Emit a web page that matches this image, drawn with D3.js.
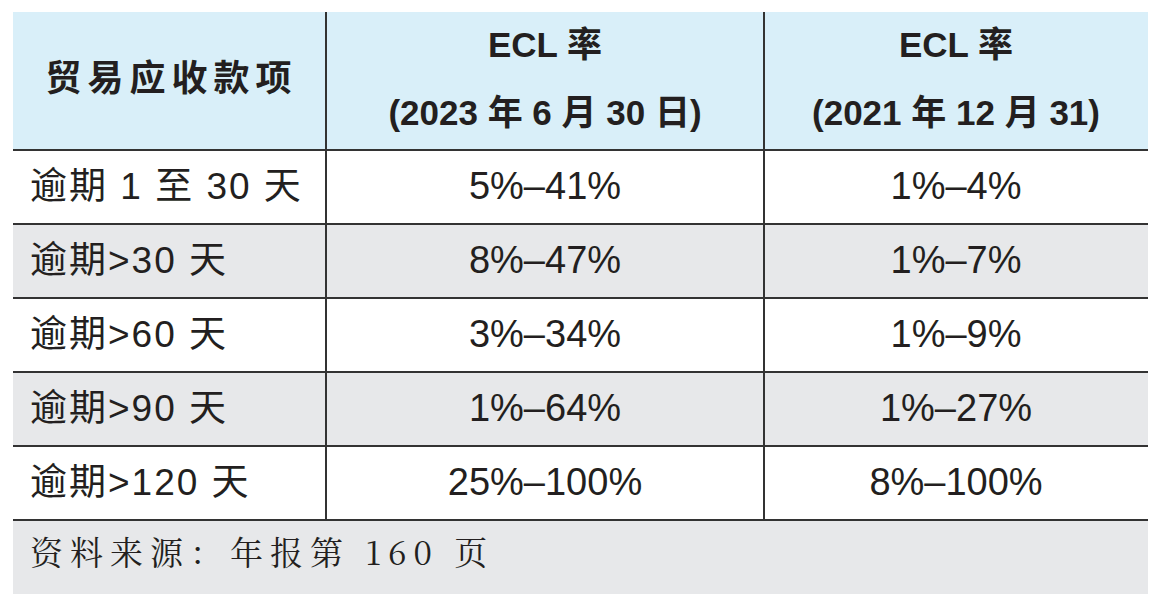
<!DOCTYPE html>
<html><head><meta charset="utf-8">
<script src="https://cdn.jsdelivr.net/npm/d3@7"></script>
<style>body{margin:0;background:#fff}</style></head>
<body><svg id="c" width="1160" height="607"></svg>
<script>
const headers = [["贸易应收款项"], ["ECL 率", "(2023 年 6 月 30 日)"], ["ECL 率", "(2021 年 12 月 31)"]];
const categories = ["逾期 1 至 30 天", "逾期>30 天", "逾期>60 天", "逾期>90 天", "逾期>120 天"];
const rate2023 = ["5%–41%", "8%–47%", "3%–34%", "1%–64%", "25%–100%"];
const rate2021 = ["1%–4%", "1%–7%", "1%–9%", "1%–27%", "8%–100%"];
const source = "资料来源：年报第 160 页";

const svg = d3.select("#c");
const L = 13, R = 1148, colX = [L, 326, 764, R];
const headTop = 12, headBot = 150, rowH = 74;
const y = d3.scaleBand().domain(d3.range(categories.length)).range([headBot, headBot + rowH * categories.length]);
const footBot = headBot + rowH * categories.length + 74;
const font = "'Liberation Sans','Noto Sans CJK SC',sans-serif";

svg.append("rect").attr("x", L).attr("y", headTop).attr("width", R - L).attr("height", headBot - headTop).attr("fill", "#d9eff9");
categories.forEach((c, i) => {
  svg.append("rect").attr("x", L).attr("y", y(i)).attr("width", R - L).attr("height", y.bandwidth())
    .attr("fill", i % 2 ? "#e7e8ea" : "#fff");
});
svg.append("rect").attr("x", L).attr("y", y.range()[1]).attr("width", R - L).attr("height", footBot - y.range()[1]).attr("fill", "#e7e8ea");

headers.forEach((h, j) => {
  const cx = (colX[j] + colX[j + 1]) / 2;
  if (h.length === 1) {
    svg.append("text").attr("x", cx + 2).attr("y", 81).attr("text-anchor", "middle").attr("dominant-baseline", "middle")
      .attr("font-family", font).attr("font-weight", 700).attr("font-size", 36).attr("fill", "#231f20").attr("letter-spacing", 6).text(h[0]);
  } else {
    h.forEach((t, k) => svg.append("text").attr("x", cx).attr("y", k ? 116 : 48).attr("text-anchor", "middle").attr("dominant-baseline", "middle")
      .attr("font-family", font).attr("font-weight", 700).attr("font-size", 35).attr("fill", "#231f20").text(t));
  }
});
categories.forEach((c, i) => {
  const cy = y(i) + y.bandwidth() / 2 + 2;
  svg.append("text").attr("x", 30).attr("y", cy).attr("dominant-baseline", "middle").attr("font-family", font)
    .attr("font-size", 37).attr("letter-spacing", 2).attr("fill", "#231f20").text(c);
  [rate2023[i], rate2021[i]].forEach((t, j) => svg.append("text").attr("x", (colX[j + 1] + colX[j + 2]) / 2).attr("y", cy)
    .attr("text-anchor", "middle").attr("dominant-baseline", "middle").attr("font-family", font).attr("font-size", 38).attr("fill", "#231f20").text(t));
});
svg.append("text").attr("x", 30).attr("y", (y.range()[1] + footBot) / 2).attr("dominant-baseline", "middle")
  .attr("font-family", "'Noto Serif CJK SC','DejaVu Serif',serif").attr("font-size", 33).attr("fill", "#231f20").attr("letter-spacing", 7).text(source);

const line = (x1, y1, x2, y2) => svg.append("line").attr("x1", x1).attr("y1", y1).attr("x2", x2).attr("y2", y2).attr("stroke", "#333").attr("stroke-width", 2);
[headBot, ...d3.range(1, categories.length + 1).map(i => headBot + rowH * i)].forEach(v => line(L, v, R, v));
[colX[1], colX[2]].forEach(x => line(x, headTop, x, y.range()[1]));
</script></body></html>
